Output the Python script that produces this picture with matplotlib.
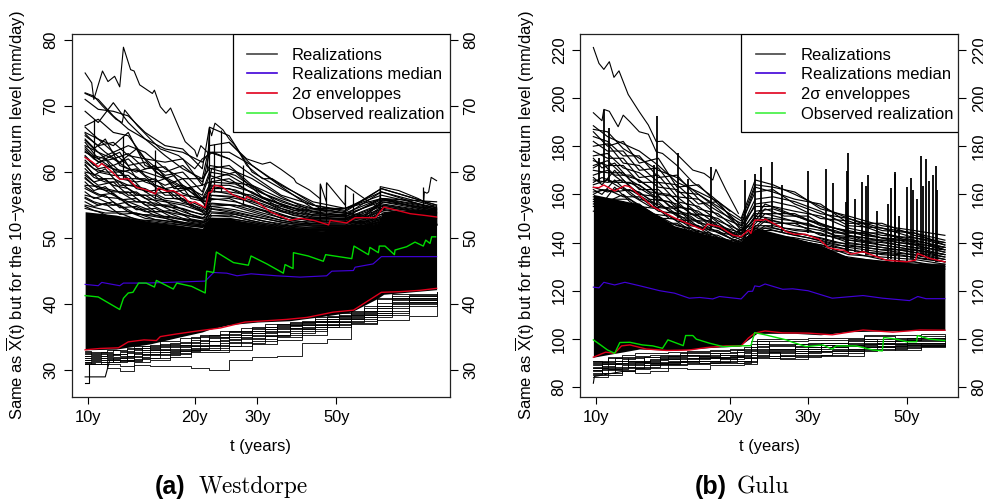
import matplotlib
matplotlib.use("Agg")
import matplotlib.pyplot as plt
from matplotlib.patches import Rectangle
from matplotlib.ticker import NullLocator

plt.rcParams['font.family'] = ['Liberation Sans', 'DejaVu Sans']
plt.rcParams['mathtext.fontset'] = 'custom'
plt.rcParams['mathtext.rm'] = 'Liberation Sans'
plt.rcParams['mathtext.it'] = 'Liberation Sans'

# Tick labels
x_ticks = [10, 20, 30, 50]
x_tick_labels = ['10y', '20y', '30y', '50y']
a_y_ticks = [30, 40, 50, 60, 70, 80]
b_y_ticks = [80, 100, 120, 140, 160, 180, 200, 220]
legend_labels = ['Realizations', 'Realizations median', '2σ enveloppes', 'Observed realization']

# ---- Westdorpe ----
a_med_t = [9.83, 10.7, 10.95, 12.3, 12.6, 14.6, 16.7, 19.0, 21.4, 22.6, 24.6, 26.3, 28.8, 34, 39.6, 47, 48.6, 55.9, 56.5, 63.5, 67, 95.8]
a_med_y = [43, 42.8, 43.3, 42.8, 43.2, 43.2, 43.3, 43.4, 43.5, 44.8, 44.7, 44.3, 44.6, 44.3, 44.1, 44.3, 45, 45.1, 45.6, 46.1, 47.2, 47.2]

a_red_hi_t = [9.83, 10.26, 10.7, 10.95, 11.55, 12.3, 13.0, 13.7, 14.6, 15.5, 15.8, 16.7, 17.4, 18.6, 19.4, 20.0, 21.4, 21.9, 22.3, 22.7, 23.8, 25.7, 27.7, 28, 29.9, 32.6, 37.1, 39.6, 43.2, 47.6, 48.1, 53.5, 56.5, 64.5, 68.1, 74.2, 80.8, 90, 95.8]
a_red_hi_y = [62.2, 61.6, 60.8, 61.3, 60.3, 58.9, 59, 57.7, 57.3, 56.7, 57.6, 57.1, 57.2, 56.3, 55.3, 55.5, 54.6, 56.9, 57, 58, 57.8, 56.5, 55.8, 56.3, 55.5, 54, 52.7, 53, 52.7, 52, 52.7, 52.3, 53.1, 53.1, 54.7, 54.2, 53.7, 53.4, 53.2]
a_red_lo_t = [9.83, 10.83, 12.2, 13.0, 14.4, 15.6, 16.0, 17.8, 20.7, 23.6, 27.7, 31.9, 36.3, 41.4, 49, 55.9, 61, 67, 75.6, 86, 95.8]
a_red_lo_y = [33.1, 33.3, 33.4, 34.3, 34.6, 34.5, 35.1, 35.5, 36, 36.4, 37.3, 37.5, 37.7, 38, 38.8, 39.1, 40.4, 41.8, 41.9, 42.1, 42.4]

a_obs_t = [9.83, 10.7, 12.3, 12.6, 13, 13.4, 13.9, 14.6, 15.4, 15.6, 17.4, 17.8, 19.6, 21.4, 21.6, 22.6, 23, 25.7, 28.3, 28.8, 31.9, 35.5, 35.9, 37.8, 37.9, 41.7, 46, 46.7, 55.3, 56.1, 61.6, 62.2, 65.7, 66.1, 68.6, 72.9, 73.2, 78.9, 83.3, 87.9, 89.3, 91.8, 92.8, 95.2]
a_obs_y = [41.3, 41.1, 39.2, 40.9, 41.7, 41.8, 43.2, 43.2, 42.6, 43.6, 42.3, 43.2, 42.7, 41.7, 45, 44.8, 47.9, 46.3, 45.9, 47.3, 46.1, 44.7, 46, 45.4, 47.8, 47.3, 46.5, 47.5, 46.9, 48.8, 47.5, 48.6, 47.8, 48.8, 48.8, 47.5, 48.2, 48.7, 49.4, 48.8, 49.7, 49.2, 50.2, 50.2]

# solid part of the realization cloud
a_fill_t = [9.83, 12, 15, 18, 21, 22, 25, 30, 37, 45, 55, 65, 68, 95.8]
a_fill_hi = [54, 53.5, 52.5, 52, 51.5, 53, 53, 52, 51.5, 51, 52, 52, 54, 54.5]
a_fill_lo = [33.1, 33.2, 34, 35, 35.8, 36.2, 36.9, 37.3, 37.5, 38.1, 38.8, 40.8, 41.5, 42.2]

# single realizations, upper fringe, all on a_up_t
a_up_t = [9.83, 10.7, 11.8, 13, 14.5, 16.5, 18.5, 21, 22, 25, 29, 35, 43, 53, 67, 95.8]
a_up = [
    [71.9, 71, 68.5, 66.5, 65, 63.5, 63, 61.5, 63, 63, 61, 58, 55.5, 54.5, 56, 55.5],
    [71, 69.5, 69.2, 68.5, 66, 64, 63.5, 60.5, 66.8, 65.5, 60, 57.5, 55, 54.2, 57.5, 55],
    [69.2, 67.5, 70.5, 67.5, 65, 62.5, 60.5, 59, 64, 64.5, 61, 57.8, 54.5, 54.5, 57, 54.8],
    [67, 68, 66, 65.5, 62, 61.5, 62, 58, 63, 62, 59.5, 56.5, 55, 54, 57.5, 55],
    [66.8, 65, 64, 66, 61, 60, 61, 58.5, 61, 60.5, 59, 56.3, 54, 54.5, 56.5, 54.6],
    [66, 65, 63, 64, 63, 60.5, 59, 59, 60.5, 61, 58, 56, 54.5, 53.8, 56, 54.4],
    [65.5, 64, 64.5, 62.5, 62, 59.5, 60, 57, 60, 59.5, 57.5, 55.5, 54, 53.5, 57, 54.3],
    [65, 63, 62, 62.8, 60.5, 60.8, 58, 56.5, 59.5, 58.5, 58, 55, 53.8, 53.3, 55.8, 54.2],
    [64.5, 62, 63, 61, 61.5, 59, 57.5, 58, 58.5, 59, 56.8, 55.2, 53.5, 53.6, 55.5, 54],
    [64, 63, 61, 62, 59.5, 58, 59, 56, 58, 58, 57, 54.5, 53.2, 53, 55.2, 53.9],
    [63.5, 61.5, 62, 60.5, 60, 59, 56.8, 55.8, 57.5, 57.5, 56, 54.8, 53.4, 53.2, 56, 53.8],
    [63, 62, 60.5, 60, 58.5, 57.5, 58, 55.5, 57, 57, 56.5, 54.2, 53, 52.9, 55, 53.6],
    [62.5, 60.5, 61, 59, 59, 56.5, 56.5, 56, 56.5, 56.2, 55.5, 54, 52.8, 52.7, 54.8, 53.5],
    [61.5, 60, 59.5, 59.5, 57, 57.5, 55.5, 54.5, 55.8, 56, 54.5, 53.5, 52.5, 52.5, 54.4, 53],
    [61, 59, 59, 58, 57.5, 56, 56, 54.2, 55.2, 55, 54.8, 53, 52.2, 52.3, 54, 52.8],
    [60, 59.5, 58, 57.5, 56, 55.5, 55, 54, 54.8, 55, 54, 52.7, 52, 52, 53.6, 52.6],
    [59.5, 58, 58.5, 56.5, 56.5, 54.8, 54.5, 53.5, 54.5, 54.2, 53.4, 52.4, 51.8, 51.8, 53.2, 52.4],
    [59, 57.5, 57, 57, 55, 55, 54, 53, 54, 53.8, 53, 52, 51.5, 51.7, 53, 52.2],
    [58, 57.8, 56.5, 55.5, 55.5, 54, 53.5, 53, 53.4, 53.5, 52.6, 51.8, 51.3, 51.5, 52.8, 52],
    [57.5, 56.5, 56.8, 55, 54, 54, 53, 52.5, 53, 53, 52.4, 51.6, 51.2, 51.4, 52.5, 52],
    [56.5, 56, 55, 55.5, 54.5, 53.2, 52.8, 52.3, 52.8, 52.7, 52.2, 51.5, 51, 51.3, 52.4, 52],
    [56, 55, 55.5, 54, 53.5, 53, 52.4, 52, 52.5, 52.5, 52, 51.3, 51, 51.2, 52.2, 52],
    [55, 54.5, 54, 54, 53, 52.6, 52.2, 51.8, 52.3, 52.3, 51.8, 51.2, 50.8, 51, 52, 52],
    [54.5, 54, 53, 53.2, 52.6, 52.2, 52, 51.6, 52.2, 52.2, 51.6, 51, 50.7, 51, 52, 52],
]
# second batch, jumps fall at slightly other times
a_up2_t = [9.83, 10.4, 11.2, 12.3, 13.7, 15.5, 17.5, 19.5, 21.5, 22.3, 26, 31, 38, 47, 60, 68, 95.8]
a_up2 = [
    [65.8, 64.5, 63, 61.5, 63.5, 60, 58.5, 57, 55.5, 60.5, 59.5, 56.8, 55, 54, 53.5, 56, 54.6],
    [64.8, 63.5, 65, 61, 60, 61, 57.5, 57.5, 55, 59, 60, 56.2, 54.2, 54.3, 53.3, 55.5, 54.4],
    [63.8, 62.5, 62, 63, 59, 58.5, 59.5, 56, 55.5, 58.5, 58.2, 56, 54.6, 53.6, 53.2, 55.8, 54.1],
    [63.2, 62, 61, 60, 60.5, 58, 57, 57.5, 54.8, 57.8, 57.3, 55.5, 53.8, 53.4, 53, 55, 53.8],
    [62.3, 61, 62, 59, 58.5, 59, 56, 55.5, 54.5, 57.2, 56.5, 55.2, 53.4, 53, 52.9, 54.7, 53.7],
    [61.8, 60.5, 60, 60, 57.5, 56.8, 57, 54.8, 54, 56.5, 56.3, 54.6, 53, 52.9, 52.7, 54.5, 53.4],
    [61.2, 59.5, 60.5, 58, 58, 56, 55.5, 55, 53.6, 56, 55.5, 54.3, 52.9, 52.6, 52.5, 54.2, 53.2],
    [60.5, 59.2, 58.5, 58.5, 56.5, 56.5, 54.8, 54, 53.5, 55.3, 55, 53.8, 52.6, 52.3, 52.4, 53.8, 53],
    [59.8, 58.5, 59, 56.8, 57, 55, 55, 53.6, 53, 54.8, 54.3, 53.3, 52.3, 52.1, 52.2, 53.5, 52.9],
    [59.2, 58, 57.5, 57, 55.5, 55.3, 54, 53.3, 52.8, 54.4, 53.8, 53, 52.1, 51.9, 52, 53.2, 52.7],
    [58.5, 57.2, 57.8, 55.8, 56, 54, 54.2, 52.9, 52.5, 53.8, 53.6, 52.6, 51.9, 51.8, 51.9, 53, 52.5],
    [57.8, 57, 56.2, 56, 54.3, 54.5, 53, 52.7, 52.3, 53.4, 53.2, 52.3, 51.7, 51.6, 51.8, 52.8, 52.3],
    [57, 56, 56.5, 54.6, 54.8, 53.4, 53.2, 52.4, 52.1, 53, 52.8, 52.1, 51.5, 51.5, 51.7, 52.6, 52.2],
    [56.2, 55.5, 55, 55, 53.6, 53.5, 52.6, 52.2, 51.9, 52.7, 52.5, 51.9, 51.3, 51.4, 51.6, 52.4, 52.1],
    [55.5, 54.8, 55.2, 53.6, 53.8, 52.8, 52.5, 52, 51.8, 52.5, 52.3, 51.7, 51.2, 51.3, 51.5, 52.2, 52],
    [54.8, 54.2, 53.8, 53.8, 52.8, 52.6, 52.2, 51.8, 51.7, 52.3, 52.2, 51.5, 51.1, 51.2, 51.4, 52.1, 52],
]

# realizations that stand out, each with its own times
a_top_t = [9.83, 10.26, 10.4, 11, 11.4, 11.9, 12.3, 12.6, 13.2, 13.5, 14, 15.2, 15.4, 16, 16.6, 17.1, 18, 18.8, 20, 20.3, 20.8, 22]
a_top_y = [75, 73.5, 71, 75.3, 73.7, 74.5, 72.9, 78.9, 75.5, 75.3, 73.2, 71.9, 72.4, 69.9, 68.9, 69.7, 66.9, 64.6, 63.3, 62.3, 64, 62.7]
a_l2_t = [9.83, 10.4, 11, 12, 12.5, 12.7, 13.8, 15, 16, 17, 18, 20, 21, 22.5, 25]
a_l2_y = [72, 71.5, 70, 68, 67.5, 69.4, 67, 65, 63.5, 63, 62.5, 60.5, 62, 63, 62]
a_l3_t = [21.7, 22, 22.3, 22.8, 24, 25, 26, 28, 31, 33, 38, 45, 47]
a_l3_y = [60.5, 66.7, 65.5, 67.4, 66.4, 65, 64, 61, 59, 59, 57, 54.5, 54]
a_l4_t = [25, 28, 31, 32.6, 35, 38, 38.6, 42, 45]
a_l4_y = [64.5, 62, 61.2, 61.5, 60.4, 59, 58.4, 57.3, 56]
a_l5_t = [44, 45, 45.1, 46.9, 47, 53, 53.1, 60, 66.3]
a_l5_y = [52.5, 52.5, 58.2, 55.5, 58.4, 55, 58, 56, 54.5]
a_l6_t = [66.3, 66.5, 75, 85, 95.8]
a_l6_y = [54.5, 57.8, 57.2, 56, 54.5]
a_l7_t = [80, 88, 88.5, 90, 91, 92.5, 95.8]
a_l7_y = [55.5, 55, 57, 56.8, 57, 59.2, 58.7]

a_spike_t = [10.4, 12.6, 15.5, 22, 23.7, 22.6, 27.3, 45, 46.9, 53, 55.9, 66.5, 88]
a_spike_lo = [62, 59, 56, 56, 57, 57, 55, 52.5, 52.5, 52.7, 53, 54, 54]
a_spike_hi = [68.1, 65.4, 63.3, 66.6, 66.4, 64.3, 61, 58.2, 58.4, 58, 56.9, 57.7, 57.7]

# lower fringe, drawn as steps
a_dn_t = [9.83, 10.5, 11.3, 12.3, 13.5, 15, 17, 19.5, 22, 25, 29, 34, 40, 47, 55, 65, 80, 95.8]
a_dn = [
    [32.8, 32.7, 33, 32.9, 33.4, 33.8, 33.9, 35, 35.3, 35.8, 36.5, 37, 37.5, 38.2, 39, 41, 41.4, 41.8],
    [32.5, 32.4, 32.3, 32.7, 33.6, 33.2, 34.2, 34.6, 34.9, 36, 36.2, 36.7, 37.3, 38, 38.8, 40.8, 41.2, 41.5],
    [32.1, 32.2, 32.4, 32.1, 33, 33.5, 33.5, 34.2, 35, 35.4, 36, 36.9, 37, 37.8, 38.5, 40.2, 41, 41.4],
    [31.8, 31.9, 32, 32, 32.4, 33, 33.2, 33.7, 34.5, 35, 35.6, 36.4, 36.9, 37.5, 38.3, 39.8, 40.8, 41.2],
    [31.5, 31.6, 31.7, 31.8, 32.8, 32.7, 32.9, 33.4, 33.8, 34.7, 35.2, 36, 36.6, 37.3, 38, 39.5, 40.6, 41],
    [31.3, 31.2, 31.5, 31.4, 32, 32.4, 32.6, 33.2, 33.4, 34.3, 34.8, 35.4, 36.3, 37, 37.7, 39, 40.4, 40.8],
    [31.1, 31, 31.2, 31.5, 31.7, 31.9, 32.5, 33, 33.1, 33.6, 34.5, 35, 36, 36.8, 37.4, 38.7, 40.2, 40.6],
    [31, 30.9, 31, 30.6, 31.3, 31.5, 32, 32.7, 32.8, 33.1, 34, 34.6, 35.4, 36.5, 37.1, 38.4, 39.8, 40.4],
    [31, 30.9, 30.4, 29.9, 30.8, 30.7, 30.6, 30.3, 30, 31.5, 32, 32.2, 34.2, 34.7, 37, 37.6, 38.2, 40.2],
]
a_dn2_t = [9.83, 10.2, 10.9, 11.8, 12.9, 14.2, 16, 18.2, 20.7, 23.5, 27, 31.5, 37, 43.5, 51, 60, 72, 95.8]
a_dn2 = [
    [32.9, 32.6, 32.8, 33, 33.3, 33.6, 34.4, 34.9, 35.4, 36, 36.4, 37, 37.3, 38, 38.6, 39.5, 41.5, 41.9],
    [32.6, 32.3, 32.6, 32.4, 33.2, 33, 34, 34.3, 35.2, 35.5, 35.9, 36.6, 37.1, 37.7, 38.4, 39.8, 41.3, 41.7],
    [32.2, 32, 32.1, 32.5, 32.2, 33.3, 33.6, 33.8, 34.5, 35, 35.6, 36.3, 36.9, 37.4, 38.2, 38.9, 41, 41.5],
    [31.9, 31.7, 31.8, 31.6, 32.6, 32.5, 33, 33.6, 33.9, 34.6, 35.3, 35.8, 36.4, 37.3, 37.9, 38.7, 40.6, 41.3],
    [31.6, 31.4, 31.5, 31.3, 31.6, 32.3, 32.8, 33, 33.6, 34.1, 34.9, 35.2, 36.2, 36.9, 37.7, 38.3, 40.4, 41.1],
    [31.2, 31, 31.3, 31.9, 31.4, 31.8, 32.3, 32.9, 33, 33.7, 34.2, 35.3, 35.6, 36.6, 37.3, 38.1, 40, 40.7],
]
a_stub1_t = [9.83, 10.15, 10.15, 11.2, 11.5, 11.5]
a_stub1_y = [29, 29, 29, 29, 31.3, 31.3]
a_stub2_t = [9.83, 10.1, 10.1]
a_stub2_y = [28, 28, 31]

# ---- Gulu ----
b_med_t = [9.85, 10.14, 10.4, 11, 11.6, 12.5, 13.9, 15, 16.2, 17.1, 18.3, 18.95, 21.2, 22, 22.5, 22.75, 23.3, 24, 26.3, 27.7, 30, 34, 39.9, 44.2, 50.8, 53, 55.3, 61]
b_med_y = [121.5, 121.2, 123.5, 122.4, 123.5, 122.1, 120, 119, 116.9, 117.2, 116.6, 117.6, 116.6, 119.7, 119.8, 122, 121.7, 122.8, 120.6, 120.8, 120, 116.9, 118, 116.9, 115.9, 117.6, 116.7, 116.7]

b_red_hi_t = [9.85, 10.14, 10.4, 11, 11.6, 11.9, 12.5, 13.4, 14.1, 15.1, 16.2, 17.4, 17.8, 18.95, 20.3, 21.2, 22, 22.3, 22.75, 23.8, 24, 25.9, 26.8, 28, 29.5, 31.8, 33.3, 35.3, 36, 37.5, 39.9, 45, 50, 52.4, 52.9, 56.4, 61]
b_red_hi_y = [162.9, 162.8, 163.9, 161.4, 163.7, 163.2, 159.7, 154.9, 152.8, 150, 147.7, 145.2, 147.7, 146.6, 143.1, 142.4, 145.2, 143.8, 149.3, 149.3, 149.8, 146.6, 144.5, 143.4, 143.5, 141.3, 137.9, 136.9, 136.9, 135.2, 136.2, 132.7, 132, 132.7, 135.5, 133.4, 132]
b_red_lo_t = [9.85, 10.5, 11, 11.4, 11.9, 12.96, 14.4, 16.2, 17.7, 19.6, 21.2, 22, 22.75, 24, 26.3, 30, 34, 39.9, 46.6, 53.6, 61]
b_red_lo_y = [92.4, 94.5, 94, 97.1, 97.5, 95.8, 95.2, 95.4, 96.4, 97.1, 97.1, 100.3, 102.4, 103.3, 102.5, 102.4, 101.7, 103.7, 102.8, 103.7, 103.6]

b_obs_t = [9.85, 10.17, 10.6, 11, 11.3, 11.9, 12.7, 13.4, 14.1, 14.5, 15.7, 15.9, 16.5, 16.8, 18, 19.3, 21.2, 22.3, 22.75, 24, 26.8, 27.7, 29.7, 32.4, 34, 34.7, 38.5, 42, 44.1, 44.4, 47.4, 50, 52.7, 52.9, 56.4, 61]
b_obs_y = [99.6, 97.8, 95.4, 94, 98.5, 98.6, 97.5, 97.1, 96.1, 99.6, 97.2, 101.4, 101.4, 99.9, 98.2, 96.8, 97.1, 97.2, 102.6, 101.7, 99.6, 98.6, 96.8, 97.5, 95.7, 97.1, 97.1, 95.4, 95, 100.6, 99.9, 98.8, 98.8, 101.4, 99.9, 99.3]

b_fill_t = [9.85, 12.5, 15, 18, 21, 23, 28, 32, 37, 52, 61]
b_fill_hi = [160, 156, 147, 143, 140, 146, 142, 139, 134, 131.5, 131]
b_fill_lo = [92.4, 95.8, 95.2, 96.4, 97, 102.3, 102.3, 101.7, 103, 103.5, 103.5]

b_up_t = [9.85, 10.6, 11.5, 12.5, 13.8, 15.2, 17, 18.8, 21.2, 22.8, 25, 28, 32, 37, 44, 52, 61]
b_up = [
    [188.5, 184, 181, 178, 172, 165, 161, 157, 150, 166, 164, 160, 155, 150, 146, 144, 141],
    [187, 186, 179, 175, 170, 167, 160, 155, 149, 164, 163, 161, 154, 151, 147, 145, 143],
    [186, 180, 182, 173, 175, 163, 164, 156, 147, 163, 161, 158, 156, 148, 148, 143, 140],
    [184, 182, 176, 176, 167, 168, 158, 153, 148, 161, 162, 156, 152, 150, 145, 144, 139],
    [182, 178, 178, 170, 171, 161, 160, 154, 146, 158, 159, 157, 153, 147, 146, 142, 140],
    [180, 181, 173, 172, 165, 164, 156, 157, 145, 156, 157, 155, 150, 149, 144, 141, 138],
    [178, 175, 175, 167, 168, 159, 158, 151, 147, 155, 155, 153, 151, 146, 143, 142, 139],
    [176, 177, 171, 169, 163, 162, 154, 152, 144, 153, 154, 151, 148, 144, 144, 140, 137],
    [174, 172, 172, 165, 165, 157, 155, 149, 145, 152, 152, 152, 147, 145, 142, 141, 138],
    [172, 174, 168, 166, 160, 159, 152, 150, 143, 151, 150, 149, 146, 143, 141, 139, 136],
    [170, 169, 169, 162, 162, 155, 153, 147, 144, 150, 149, 147, 145, 141, 140, 138, 137],
    [168, 170, 165, 164, 158, 156, 150, 148, 142, 149, 148, 148, 143, 142, 139, 137, 135],
    [166, 165, 166, 160, 159, 153, 151, 146, 141, 147, 147, 145, 144, 140, 138, 136, 134],
    [164, 166, 162, 161, 155, 154, 148, 147, 142, 146, 146, 144, 142, 139, 137, 137, 135],
    [163, 161, 163, 158, 156, 151, 149, 144, 140, 145, 145, 143, 141, 138, 136, 135, 133],
    [161, 162, 159, 159, 153, 152, 146, 145, 139, 146, 143, 142, 140, 137, 135, 134, 132],
    [159, 157, 160, 155, 154, 149, 147, 142, 140, 144, 142, 141, 139, 135, 134, 133, 131],
    [157, 158, 156, 156, 150, 150, 144, 143, 138, 143, 141, 140, 137, 136, 133, 132, 130],
    [155, 154, 157, 152, 151, 147, 145, 141, 139, 142, 140, 138, 136, 134, 132, 131, 131],
    [153, 155, 153, 153, 148, 148, 142, 142, 137, 141, 139, 137, 135, 133, 131, 132, 129],
]
b_up2_t = [9.85, 10.3, 11, 11.9, 13.2, 14.6, 16.3, 18, 20.4, 22.3, 24, 26.5, 30, 34.5, 40, 48, 55, 61]
b_up2 = [
    [175, 171, 173, 166, 161, 160, 152, 151, 143, 148, 156, 153, 149, 146, 143, 141, 140, 137],
    [171, 173, 168, 168, 163, 155, 154, 147, 144, 147, 154, 151, 151, 144, 144, 140, 139, 138],
    [167, 164, 170, 163, 158, 157, 149, 149, 142, 146, 152, 150, 147, 145, 141, 141, 138, 136],
    [165, 167, 165, 165, 160, 153, 151, 145, 143, 145, 150, 148, 148, 143, 142, 139, 137, 135],
    [162, 160, 166, 160, 155, 154, 147, 146, 141, 144, 149, 146, 145, 142, 140, 138, 136, 134],
    [160, 162, 161, 162, 157, 150, 149, 143, 140, 143, 147, 145, 143, 140, 139, 137, 135, 133],
    [158, 156, 163, 157, 152, 151, 145, 144, 139, 143, 146, 144, 142, 139, 138, 136, 134, 132],
    [156, 158, 158, 158, 153, 148, 146, 141, 138, 142, 144, 142, 140, 138, 136, 135, 133, 132],
]
b_top_t = [9.85, 10.14, 10.4, 10.7, 10.96, 11.25, 11.8, 12.5, 13.1, 13.65, 14.1, 15, 16.5, 17.5, 18.3, 18.6, 19.6, 20.9]
b_top_y = [221, 214.4, 211.9, 215.1, 208.6, 211.3, 201.5, 194.3, 188.8, 181.9, 182.1, 177.7, 170.1, 168.7, 166, 170.4, 161.8, 152.1]
b_l2_t = [9.85, 10.3, 10.4, 10.7, 11.2, 11.5, 11.9, 12.5, 13.1, 13.65, 14.1, 15.2, 16.5, 18, 20]
b_l2_y = [193.9, 190.6, 195.3, 194.5, 188.1, 192.9, 190.2, 186, 185, 177.7, 177, 172, 165, 160, 153]

b_spike_t = [10.4, 10.68, 10.14, 13.5, 13.67, 15.3, 16.1, 18.1, 21.6, 22.75, 23.5, 24.9, 26.2, 30, 32.9, 34.2, 36.6, 36.7, 36.9, 38.3, 39.6, 40.5, 41, 42.9, 45.5, 46.2, 47.1, 47.2, 48, 50, 51.2, 51.8, 52.9, 54, 54.4, 55.2, 56.1, 57.4, 58.3, 58.5]
b_spike_lo = [165, 165, 165, 155, 155, 150, 147, 146, 142, 150, 150, 146, 144, 144, 138, 137, 136, 136, 136, 136, 136, 135, 135, 134, 133, 133, 132, 132, 132, 132, 133, 133, 134, 134, 134, 133, 133, 133, 132, 132]
b_spike_hi = [195, 187.4, 175, 172, 192.4, 177, 166.6, 171.5, 166, 168.3, 171.5, 173.5, 163.9, 169.7, 170.5, 164.8, 157, 169.7, 177, 158, 165, 163.5, 168, 153, 156, 162.5, 168.4, 169.4, 151, 163, 167, 161.7, 158, 176, 163.6, 174.7, 165.7, 168, 171.9, 162]

b_dn_t = [9.85, 10.6, 11.4, 12.2, 13.2, 14.5, 16, 18, 20, 21.5, 23, 26, 30, 34, 40, 47, 54, 61]
b_dn = [
    [84, 85, 86.5, 86, 86.5, 88, 87.5, 89, 89.2, 89.5, 94, 91.5, 93, 93, 96.5, 95.5, 97, 97],
    [85, 86, 87, 87.5, 88, 89, 89.5, 90, 90, 90.5, 92, 93, 93.5, 94, 96.8, 96.3, 97.2, 97],
    [86, 87, 86.8, 88, 89, 89.5, 90, 90.5, 91, 91, 93, 94, 94.5, 95, 95.5, 97, 97.5, 97.3],
    [87, 87.5, 88.5, 89, 89.5, 90.5, 91, 91, 91.5, 92, 94.5, 93.5, 95, 95.5, 97, 97.5, 98, 98],
    [88, 88.5, 89, 90, 90, 91, 91.5, 92, 92.5, 92, 95, 95, 96, 96, 98, 98, 98.5, 98.5],
    [88.5, 89.5, 90, 90.5, 91.2, 91.5, 92, 92.5, 93, 93.5, 96, 96, 96.5, 97, 98.5, 99, 99, 99],
    [89.5, 90, 91, 91, 91.8, 92.5, 92.8, 93.5, 93.5, 94, 97, 97, 97.5, 97.5, 99, 99.5, 100, 100],
    [90, 91, 91.5, 92.5, 92.5, 93, 93.5, 94, 94.5, 95, 98, 98, 98.5, 98.5, 100, 100, 100.5, 100.5],
    [90.5, 92, 92.5, 93, 93.5, 93.5, 94.5, 95, 95.5, 96, 99, 99, 99.5, 99.5, 101, 100.5, 101, 101],
    [91, 92.5, 93.5, 94, 94, 94.5, 95, 95.5, 96, 96.5, 100, 100, 100.5, 100.5, 101.5, 101.5, 102, 102],
]
b_dn2_t = [9.85, 10.3, 11, 11.8, 12.8, 13.9, 15.4, 17, 19, 20.8, 22.3, 24.5, 28, 32, 37, 43, 50, 61]
b_dn2 = [
    [86.5, 86, 87.5, 88.5, 88.5, 90, 90.5, 91, 92, 91, 93.5, 94.5, 94, 96.5, 96, 97, 98.5, 98],
    [89, 88, 88, 91, 91, 90.5, 92, 92.5, 92.5, 93, 96.5, 95.5, 96, 95, 97.5, 98, 97.5, 97.7],
    [85.5, 87.5, 89.5, 88, 90, 91.5, 90.8, 93, 93.5, 92.5, 95.5, 93, 96.5, 97.5, 98, 96.5, 99.5, 99.5],
    [91, 89.5, 91, 92, 90.5, 93, 93.2, 92, 94, 94.5, 98, 97.5, 95, 98.5, 99, 99.2, 98.5, 100],
    [88, 90.5, 92, 89.5, 92.5, 92, 94, 94, 91.5, 95.5, 99, 96, 98, 96.5, 100, 98.5, 100.5, 101.5],
    [87, 88.8, 90, 90.5, 89, 89.5, 91, 90, 90.5, 90.2, 92.5, 92, 92.5, 93.2, 95, 95.8, 96.5, 97.5],
]
b_stub_t = [9.85, 9.9, 9.9, 11.4]
b_stub_y = [81.6, 84.4, 84.4, 86.4]

BLUE = '#4000d8'
RED = '#e0001c'
GREEN = '#00dc00'
W, H = 983, 499
ylabel = r'Same as $\overline{\mathrm{X}}$(t) but for the 10$-$years return level (mm/day)'

fig = plt.figure(figsize=(W/100, H/100), dpi=100)
ax1 = fig.add_axes([71.5/W, (H-396.7)/H, 378.2/W, 362.7/H])
ax2 = fig.add_axes([580/W, (H-396.7)/H, 378.3/W, 362.7/H])

# realizations
for y in a_up:
    ax1.plot(a_up_t, y, color='k', lw=0.85)
for y in a_up2:
    ax1.plot(a_up2_t, y, color='k', lw=0.85)
for y in a_dn:
    ax1.plot(a_dn_t, y, color='k', lw=0.6, drawstyle='steps-post')
for y in a_dn2:
    ax1.plot(a_dn2_t, y, color='k', lw=0.6, drawstyle='steps-post')
for t, y in [(a_top_t, a_top_y), (a_l2_t, a_l2_y), (a_l3_t, a_l3_y), (a_l4_t, a_l4_y),
             (a_l5_t, a_l5_y), (a_l6_t, a_l6_y), (a_l7_t, a_l7_y), (a_stub1_t, a_stub1_y), (a_stub2_t, a_stub2_y)]:
    ax1.plot(t, y, color='k', lw=0.8)
ax1.vlines(a_spike_t, a_spike_lo, a_spike_hi, color='k', lw=0.9)
ax1.fill_between(a_fill_t, a_fill_lo, a_fill_hi, color='k', lw=0)

for y in b_up:
    ax2.plot(b_up_t, y, color='k', lw=0.85)
for y in b_up2:
    ax2.plot(b_up2_t, y, color='k', lw=0.85)
for y in b_dn:
    ax2.plot(b_dn_t, y, color='k', lw=0.6, drawstyle='steps-post')
for y in b_dn2:
    ax2.plot(b_dn2_t, y, color='k', lw=0.6, drawstyle='steps-post')
for t, y in [(b_top_t, b_top_y), (b_l2_t, b_l2_y), (b_stub_t, b_stub_y)]:
    ax2.plot(t, y, color='k', lw=0.8)
ax2.vlines(b_spike_t, b_spike_lo, b_spike_hi, color='k', lw=1.3)
ax2.fill_between(b_fill_t, b_fill_lo, b_fill_hi, color='k', lw=0)

# median, envelopes, observed
ax1.plot(a_med_t, a_med_y, color=BLUE, lw=0.85)
ax1.plot(a_red_hi_t, a_red_hi_y, color=RED, lw=1.0)
ax1.plot(a_red_lo_t, a_red_lo_y, color=RED, lw=1.0)
ax1.plot(a_obs_t, a_obs_y, color=GREEN, lw=1.0)
ax2.plot(b_med_t, b_med_y, color=BLUE, lw=0.85)
ax2.plot(b_red_hi_t, b_red_hi_y, color=RED, lw=1.0)
ax2.plot(b_red_lo_t, b_red_lo_y, color=RED, lw=1.0)
ax2.plot(b_obs_t, b_obs_y, color=GREEN, lw=1.0)

for ax, yticks, xlim, ylim in [(ax1, a_y_ticks, (9.0, 104.3), (26.0, 80.9)),
                               (ax2, b_y_ticks, (9.19, 65.4), (76.0, 226.6))]:
    ax.set_xscale('log')
    ax.set_xlim(xlim)
    ax.set_ylim(ylim)
    ax.set_xticks(x_ticks)
    ax.set_xticklabels(x_tick_labels, fontsize=11.9)
    ax.xaxis.set_minor_locator(NullLocator())
    ax.set_yticks(yticks)
    ax.tick_params(axis='x', length=5.2, width=0.8, pad=4.5)
    ax.tick_params(axis='y', length=5.6, width=0.8, pad=4, labelsize=11.9, right=True, labelright=True)
    for lab in ax.get_yticklabels():
        lab.set_rotation(90)
        lab.set_va('center')
    for s in ax.spines.values():
        s.set_linewidth(0.9)
        s.set_color('#222222')
    ax.set_xlabel('t (years)', fontsize=11.9)
    ax.xaxis.set_label_coords(0.5, -0.118)
    ax.set_ylabel(ylabel, fontsize=11.9)
    ax.yaxis.set_label_coords(-0.114, 0.5)

    # legend box sits in the top right corner, wider padding than ax.legend allows
    ax.add_patch(Rectangle((0.4264, 0.729), 0.5736, 0.271, transform=ax.transAxes,
                           fc='white', ec='k', lw=0.9, zorder=5))
    cols = ['#444444', BLUE, RED, '#40f040']
    rows = [0.9457, 0.8925, 0.8374, 0.7831]
    for lab, col, yy in zip(legend_labels, cols, rows):
        ax.plot([0.464, 0.543], [yy, yy], transform=ax.transAxes, color=col, lw=1.2, zorder=6)
        ax.text(0.583, yy - 0.005, lab, transform=ax.transAxes, fontsize=11.9, va='center', ha='left', zorder=6)

# captions
fig.text(155/W, (H-487)/H, '(a)', fontsize=18, fontweight='bold', va='center', ha='left')
fig.text(199/W, (H-487)/H, 'Westdorpe', fontsize=16.8, family='cmr10', va='center', ha='left')
fig.text(695/W, (H-487)/H, '(b)', fontsize=18, fontweight='bold', va='center', ha='left')
fig.text(737/W, (H-487)/H, 'Gulu', fontsize=17.4, family='cmr10', va='center', ha='left')

fig.savefig('out.png', dpi=100)
